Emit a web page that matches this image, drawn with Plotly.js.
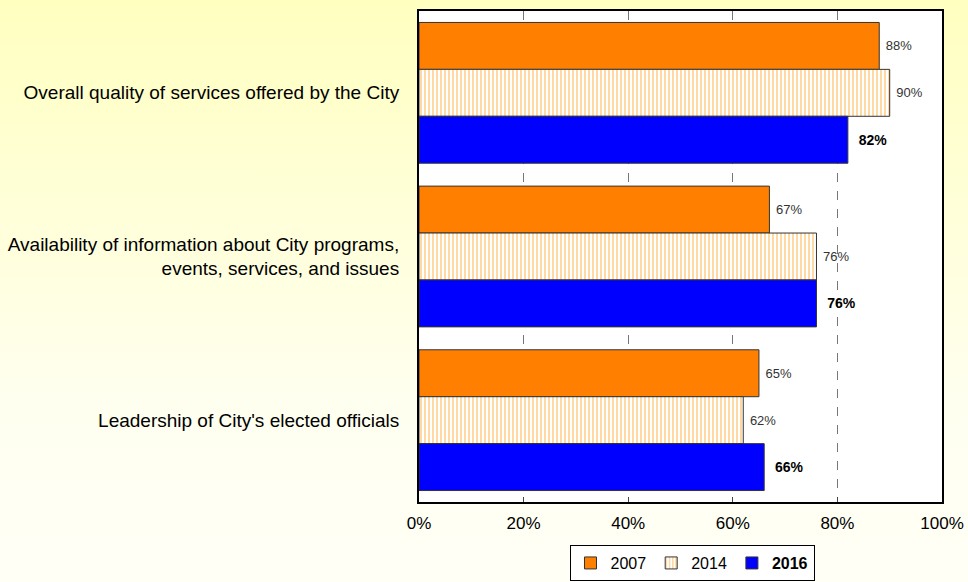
<!DOCTYPE html>
<html>
<head>
<meta charset="utf-8">
<script src="https://cdn.plot.ly/plotly-3.0.1.min.js"></script>
<style>
html,body{margin:0;padding:0;}
body{width:968px;height:582px;background:linear-gradient(to bottom,#ffffc0 0%,#fffff0 70%,#fffff6 100%);}
#chart{width:968px;height:582px;}
</style>
</head>
<body>
<div id="chart"></div>
<script>
const categories = [
  "Overall quality of services offered by the City",
  "Availability of information about City programs,<br>events, services, and issues",
  "Leadership of City's elected officials"
];
const seriesNames = ["2007", "2014", "<b>2016</b>"];
const values2007 = [88, 67, 65];
const values2014 = [90, 76, 62];
const values2016 = [82, 76, 66];
const xTickVals = [0, 20, 40, 60, 80, 100];
const xTickText = ["0%", "20%", "40%", "60%", "80%", "100%"];

const pad = "\u00a0";
const traces = [
  {
    type: "bar", orientation: "h", name: seriesNames[0],
    y: categories, x: values2007,
    text: values2007.map(v => pad + v + "%"),
    textposition: "outside", cliponaxis: false,
    textfont: {family: "Arial, Liberation Sans, sans-serif", size: 13, color: "#333333"},
    marker: {color: "#ff8000", line: {color: "#333333", width: 1}}
  },
  {
    type: "bar", orientation: "h", name: seriesNames[1],
    y: categories, x: values2014,
    text: values2014.map(v => pad + v + "%"),
    textposition: "outside", cliponaxis: false,
    textfont: {family: "Arial, Liberation Sans, sans-serif", size: 13, color: "#333333"},
    marker: {color: "#ffffff", line: {color: "#333333", width: 1},
      pattern: {shape: "|", fgcolor: "#ffb347", bgcolor: "#ffffff", size: 4, solidity: 0.25, fillmode: "replace"}}
  },
  {
    type: "bar", orientation: "h", name: seriesNames[2],
    y: categories, x: values2016,
    text: values2016.map(v => pad + pad + "<b>" + v + "%</b>"),
    textposition: "outside", cliponaxis: false,
    textfont: {family: "Arial, Liberation Sans, sans-serif", size: 14, color: "#000000"},
    marker: {color: "#0000ff", line: {color: "#333333", width: 1}}
  }
];

const layout = {
  width: 968, height: 582,
  margin: {l: 419, r: 26, t: 11, b: 80, autoexpand: false},
  paper_bgcolor: "rgba(0,0,0,0)",
  plot_bgcolor: "#ffffff",
  barmode: "group",
  bargap: 0.14,
  bargroupgap: 0,
  showlegend: true,
  font: {family: "Arial, Liberation Sans, sans-serif", color: "#000000"},
  xaxis: {
    range: [0, 100], tickvals: xTickVals, ticktext: xTickText,
    tickfont: {size: 17, color: "#000000"},
    showline: true, linecolor: "#000000", linewidth: 2, mirror: true,
    ticks: "inside", ticklen: 5, tickcolor: "#444444", tickwidth: 1,
    showgrid: true, gridcolor: "#777777", gridwidth: 1, griddash: "dash",
    zeroline: false, ticklabelstandoff: 5, automargin: false
  },
  yaxis: {
    autorange: "reversed", type: "category",
    tickfont: {size: 19, color: "#000000"},
    showline: true, linecolor: "#000000", linewidth: 2, mirror: true,
    ticks: "", ticklabelstandoff: 14, showgrid: false, automargin: false
  },
  legend: {
    orientation: "h", x: 0.522, xanchor: "center", y: -0.161, yanchor: "bottom",
    bgcolor: "#ffffff", bordercolor: "#000000", borderwidth: 1,
    font: {size: 16, color: "#000000"}, traceorder: "normal",
    itemwidth: 30, entrywidthmode: "pixels"
  }
};

Plotly.newPlot("chart", traces, layout, {displayModeBar: false, staticPlot: true});
</script>
</body>
</html>
